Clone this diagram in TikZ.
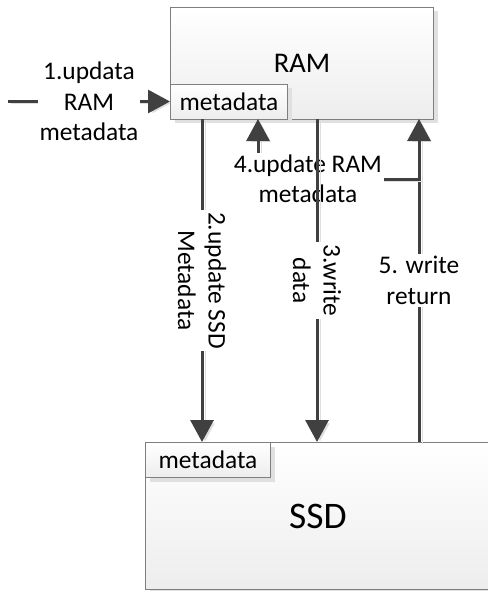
\documentclass[tikz,border=0pt]{standalone}
\usepackage{fontspec}
\setmainfont{Carlito}
\usetikzlibrary{arrows.meta,shadows}
\definecolor{linec}{HTML}{404040}
\definecolor{boxline}{HTML}{7F7F7F}
\begin{document}
\begin{tikzpicture}[x=1pt,y=-1pt,
  box/.style={draw=boxline, line width=1pt, top color=white, bottom color=black!7,
    drop shadow={shadow xshift=4pt,shadow yshift=-4pt,fill=black!12,opacity=1},
    inner sep=0pt, anchor=north west},
  lineshadow/.style={preaction={draw=black!13, transform canvas={xshift=3pt,yshift=-2pt}}},
  conn/.style={draw=linec, line width=3pt, lineshadow},
  arr/.style={conn, -{Triangle[length=22pt,width=23pt]}},
  lbl/.style={fill=white, inner sep=2pt, align=center, text=black,
    font=\fontsize{25.4}{30.5}\selectfont},
  metafont/.style={font=\fontsize{25.4}{30.5}\selectfont}
]
\useasboundingbox (0,0) rectangle (487,591);

% boxes
\node[box, minimum width=263pt, minimum height=112pt, font=\fontsize{28.5}{34}\selectfont] (ram) at (170,7) {RAM};
\node[box, minimum width=117pt, minimum height=35pt, metafont] (rammeta) at (170,84) {metadata};
\node[box, minimum width=345pt, minimum height=147pt, font=\fontsize{37.5}{45}\selectfont] (ssd) at (145,442) {SSD};
\node[box, minimum width=125pt, minimum height=35pt, metafont] (ssdmeta) at (145,442) {metadata};

% coordinates
\coordinate (s1) at (8,101.5);
\coordinate (a2) at (202,119);
\coordinate (b2) at (202,442);
\coordinate (a3) at (317,119);
\coordinate (b3) at (317,442);
\coordinate (a5) at (419,442);
\coordinate (b5) at (419,119);
\coordinate (j5) at (419,179);
\coordinate (c4) at (258,119);

% arrow 1
\draw[arr] (s1) -- node[lbl] {1.updata\\RAM\\metadata} (s1 -| rammeta.west);

% arrow 5
\draw[arr] (a5) -- node[lbl] {5. write\\return} (b5);

% arrow 4
\draw[arr] (j5) -- node[lbl, pos=0.69] {4.update RAM\\metadata} (j5 -| c4) -- (c4);

% arrow 2
\draw[arr] (a2) -- node[lbl, rotate=-90] {2.update SSD\\Metadata} (b2);

% arrow 3
\draw[arr] (a3) -- node[lbl, rotate=-90] {3.write\\data} (b3);
\end{tikzpicture}
\end{document}
